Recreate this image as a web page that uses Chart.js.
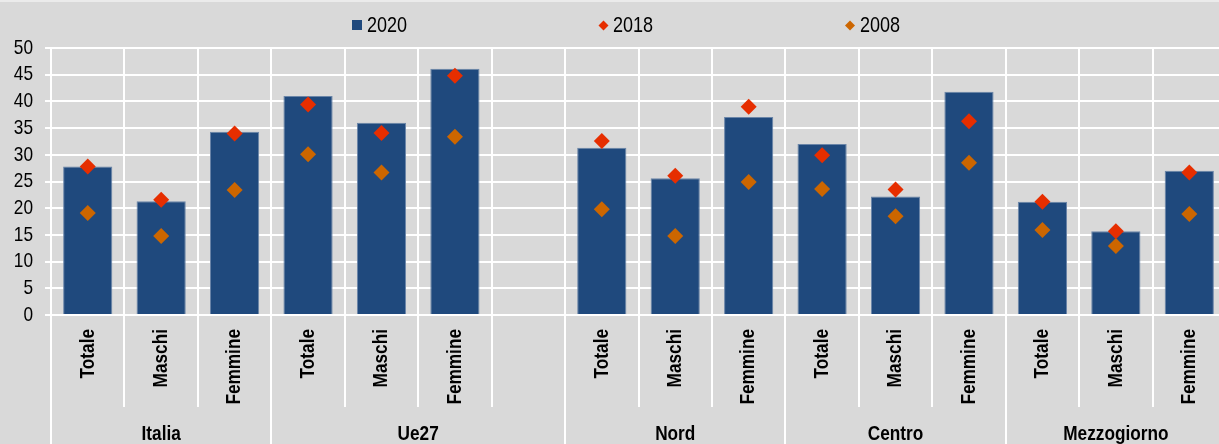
<!DOCTYPE html>
<html>
<head>
<meta charset="utf-8">
<script src="https://cdn.jsdelivr.net/npm/chart.js@4.4.1/dist/chart.umd.min.js"></script>
<style>
  html, body { margin: 0; padding: 0; background: #d9d9d9; overflow: hidden; width: 1219px; height: 444px; }
  #wrap { position: relative; width: 1234px; height: 444px; }
  #topline { position: absolute; left: 0; top: 0; width: 1234px; height: 2px; background: #ebebeb; }
  canvas { display: block; }
</style>
</head>
<body>
<div id="wrap">
  <canvas id="c" width="1234" height="444" style="width:1234px;height:444px"></canvas>
  <div id="topline"></div>
</div>
<script>
// ---- data ----
const categories = ['Totale','Maschi','Femmine','Totale','Maschi','Femmine','','Totale','Maschi','Femmine','Totale','Maschi','Femmine','Totale','Maschi','Femmine'];
const groups = ['Italia','Ue27','Nord','Centro','Mezzogiorno'];
const groupSpans = [3, 4, 3, 3, 3];
const values2020 = [27.8, 21.3, 34.3, 41.0, 36.0, 46.1, null, 31.3, 25.6, 37.1, 32.0, 22.2, 41.8, 21.2, 15.7, 27.0];
const values2018 = [27.8, 21.6, 34.0, 39.4, 34.1, 44.8, null, 32.6, 26.1, 39.0, 29.9, 23.5, 36.3, 21.2, 15.7, 26.7];
const values2008 = [19.1, 14.8, 23.4, 30.1, 26.7, 33.4, null, 19.8, 14.8, 24.9, 23.6, 18.5, 28.5, 15.9, 12.9, 18.9];
const seriesNames = ['2020', '2018', '2008'];
const yTicks = [0, 5, 10, 15, 20, 25, 30, 35, 40, 45, 50];

const FONT = '"Liberation Sans Narrow", "Arial Narrow", "Liberation Sans", Arial, sans-serif';
const NARROW = 0.82; // horizontal condensing to imitate a narrow face
const C2020 = '#1f497d', C2018 = '#e62e00', C2008 = '#cc6600';

const narrowText = {
  id: 'narrowText',
  beforeInit(chart) {
    const ctx = chart.ctx;
    if (ctx.__narrow) return;
    const orig = ctx.fillText.bind(ctx);
    ctx.fillText = function (text, x, y, maxW) {
      this.save();
      this.translate(x, y);
      this.scale(NARROW, 1);
      if (maxW === undefined) orig(text, 0, 0); else orig(text, 0, 0, maxW / NARROW);
      this.restore();
    };
    ctx.__narrow = true;
  }
};

const extras = {
  id: 'extras',
  afterDraw(chart) {
    const ctx = chart.ctx;
    const xs = chart.scales.x;
    const bottom = chart.chartArea.bottom;
    const bounds = [0];
    let acc = 0;
    groupSpans.forEach(s => { acc += s; bounds.push(acc); });
    ctx.save();
    ctx.strokeStyle = '#ffffff';
    ctx.lineWidth = 2;
    for (let i = 0; i <= categories.length; i++) {
      const px = Math.round(xs.getPixelForValue(i - 0.5));
      const isGroup = bounds.includes(i);
      ctx.beginPath();
      ctx.moveTo(px, bottom);
      ctx.lineTo(px, isGroup ? chart.height : bottom + 92);
      ctx.stroke();
    }
    ctx.fillStyle = '#000';
    ctx.font = 'bold 21px ' + FONT;
    ctx.textAlign = 'center';
    ctx.textBaseline = 'alphabetic';
    groups.forEach((g, k) => {
      const c = (xs.getPixelForValue(bounds[k] - 0.5) + xs.getPixelForValue(bounds[k + 1] - 0.5)) / 2;
      ctx.fillText(g, c, 440);
    });
    // legend
    ctx.font = '22px ' + FONT;
    ctx.textAlign = 'left';
    ctx.fillStyle = C2020;
    ctx.fillRect(352, 20, 10, 10);
    const diamond = (cx, cy, r, col) => {
      ctx.fillStyle = col;
      ctx.beginPath();
      ctx.moveTo(cx, cy - r); ctx.lineTo(cx + r, cy); ctx.lineTo(cx, cy + r); ctx.lineTo(cx - r, cy);
      ctx.closePath(); ctx.fill();
    };
    diamond(603.5, 25.5, 5, C2018);
    diamond(850, 25.5, 5, C2008);
    ctx.fillStyle = '#000';
    ctx.fillText(seriesNames[0], 367, 32);
    ctx.fillText(seriesNames[1], 613, 32);
    ctx.fillText(seriesNames[2], 860, 32);
    ctx.restore();
  }
};

new Chart(document.getElementById('c'), {
  data: {
    labels: categories,
    datasets: [
      { type: 'line', label: seriesNames[1], data: values2018, showLine: false, pointStyle: 'rectRot',
        pointRadius: 8, pointHoverRadius: 8, backgroundColor: C2018, borderColor: C2018, borderWidth: 0, order: 0 },
      { type: 'line', label: seriesNames[2], data: values2008, showLine: false, pointStyle: 'rectRot',
        pointRadius: 8, pointHoverRadius: 8, backgroundColor: C2008, borderColor: C2008, borderWidth: 0, order: 1 },
      { type: 'bar', label: seriesNames[0], data: values2020, backgroundColor: C2020, borderColor: '#6a85a8',
        borderWidth: 1, barPercentage: 0.67, categoryPercentage: 1.0, order: 2 }
    ]
  },
  options: {
    responsive: false,
    animation: false,
    layout: { padding: { top: 48, right: 1, left: 0, bottom: 0 } },
    plugins: { legend: { display: false }, tooltip: { enabled: false } },
    scales: {
      x: {
        offset: true,
        grid: { color: '#ffffff', lineWidth: 2, drawTicks: false, offset: true },
        border: { color: '#ffffff', width: 2 },
        ticks: { color: '#000', font: { family: FONT, size: 21, weight: 'bold' }, minRotation: 90, maxRotation: 90, padding: 14, autoSkip: false },
        afterFit(s) { s.height = 129; }
      },
      y: {
        min: 0, max: 50,
        afterBuildTicks(s) { s.ticks = yTicks.map(v => ({ value: v })); },
        grid: { color: '#ffffff', lineWidth: 2, tickLength: 6 },
        border: { color: '#ffffff', width: 2 },
        ticks: { color: '#000', font: { family: FONT, size: 21 }, padding: 12, autoSkip: false, stepSize: 5 },
        afterFit(s) { s.width = 51; }
      }
    }
  },
  plugins: [narrowText, extras]
});
</script>
</body>
</html>
